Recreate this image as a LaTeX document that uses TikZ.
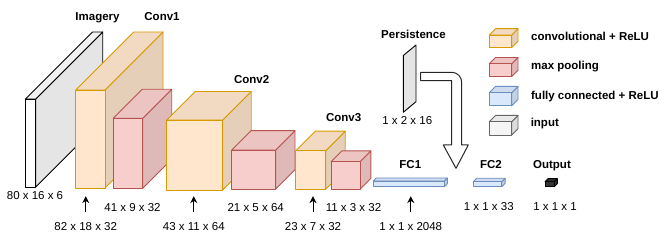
\documentclass[tikz,border=0pt]{standalone}
\usepackage{fontspec}
\setmainfont{Liberation Sans}
\usepackage{tikz}
\usetikzlibrary{arrows.meta,positioning}
\usepackage{xcolor}

\definecolor{convfill}{HTML}{FFE6CC}
\definecolor{convline}{HTML}{D79B00}
\definecolor{poolfill}{HTML}{F8CECC}
\definecolor{poolline}{HTML}{B85450}
\definecolor{fcfill}{HTML}{DAE8FC}
\definecolor{fcline}{HTML}{6C8EBF}
\definecolor{inpfill}{HTML}{F5F5F5}
\definecolor{inpline}{HTML}{666666}
\definecolor{imgfill}{HTML}{FFFFFF}
\definecolor{imgline}{HTML}{000000}
\definecolor{outfill}{HTML}{333333}
\definecolor{outline}{HTML}{000000}

% #1 kind, (#2,#3) top left of front face, #4 width, #5 height, #6 depth
\newcommand{\layerbox}[6]{%
  \filldraw[fill=#1fill!90!black, draw=#1line] (#2+#4,#3) -- ++(#6,-#6) -- ++(0,#5) -- ++(-#6,#6) -- cycle;
  \filldraw[fill=#1fill!95!black, draw=#1line] (#2,#3) -- ++(#6,-#6) -- ++(#4,0) -- ++(-#6,#6) -- cycle;
  \filldraw[fill=#1fill, draw=#1line] (#2,#3) rectangle ++(#4,#5);
}

\begin{document}
\begin{tikzpicture}[x=1pt, y=-1pt, line width=0.9pt, line join=round,
    txt/.style={inner sep=0pt, text height=8.2pt, text depth=0pt, font=\fontsize{11.5}{14}\selectfont},
    ttl/.style={txt, font=\fontsize{11.5}{14}\selectfont\bfseries},
    lgd/.style={ttl, anchor=west},
    up/.style={-{Stealth[length=7pt,width=7pt]}, line width=1pt}]
  \useasboundingbox (0,0) rectangle (664,245);

  % layers, back to front
  \layerbox{img}{25.5}{99}{10.2}{88}{67}
  \layerbox{conv}{75.7}{90}{29.3}{98}{58}
  \layerbox{pool}{113.3}{118.3}{29.4}{70}{29}
  \layerbox{conv}{166.7}{120}{56}{70}{28.5}
  \layerbox{pool}{231.7}{150}{44}{39}{19.3}
  \layerbox{conv}{295.7}{150.7}{30}{38.6}{19.5}
  \layerbox{pool}{331}{161.7}{29}{27.6}{10.8}
  \layerbox{fc}{373.3}{181}{71}{5.7}{3}
  \layerbox{fc}{473.3}{181.7}{28.4}{5}{3.4}
  \layerbox{out}{545}{181.7}{9.3}{5}{3}

  % persistence input
  \filldraw[fill=black!10, draw=black] (403.3,55.5) -- (416,45) -- (416,101.7) -- (403.3,112.3) -- cycle;

  % big arrow into FC1
  \filldraw[fill=white, draw=black!85, line width=1pt] (420.7,72.3) -- (451.7,72.3)
    arc[start angle=270, end angle=360, radius=10] -- (461.7,145) -- (468.3,145)
    -- (456,168.3) -- (443.3,145) -- (451.7,145) -- (451.7,80.7) -- (420.7,80.7) -- cycle;

  % titles
  \node[ttl] (imgttl) at (97.5,16) {Imagery};
  \node[ttl] (c1ttl) at (162,16) {Conv1};
  \node[ttl] (c2ttl) at (251.7,79.3) {Conv2};
  \node[ttl] (c3ttl) at (343.7,117.3) {Conv3};
  \node[ttl] (perttl) at (413.5,34.3) {Persistence};
  \node[ttl] (f1ttl) at (410.3,164.7) {FC1};
  \node[ttl] (f2ttl) at (491,164.7) {FC2};
  \node[ttl] (outttl) at (552,164.7) {Output};

  % sizes
  \node[txt] (imgdim) at (35,195) {80 x 16 x 6};
  \node[txt] (p1dim) at (132.5,207.3) {41 x 9 x 32};
  \node[txt] (c1dim) at (85.7,226.7) {82 x 18 x 32};
  \node[txt] (c2dim) at (193.8,226.7) {43 x 11 x 64};
  \node[txt] (p2dim) at (255.7,207.3) {21 x 5 x 64};
  \node[txt] (c3dim) at (313,226.7) {23 x 7 x 32};
  \node[txt] (p3dim) at (353.5,207.3) {11 x 3 x 32};
  \node[txt] (f1dim) at (410.8,226.7) {1 x 1 x 2048};
  \node[txt] (perdim) at (407.3,120) {1 x 2 x 16};
  \node[txt] (f2dim) at (488.8,206) {1 x 1 x 33};
  \node[txt] (outdim) at (555,206) {1 x 1 x 1};

  \foreach \d in {c1dim,c2dim,c3dim,f1dim}
    \draw[up] ([yshift=10pt]\d.north) -- ([yshift=26pt]\d.north);

  % legend
  \layerbox{conv}{489.3}{35}{22.4}{12.5}{6.3}
  \layerbox{pool}{489.3}{63.8}{22.4}{12.8}{6.3}
  \layerbox{fc}{489.3}{92.7}{22.4}{13.2}{6.3}
  \layerbox{inp}{489.3}{121.7}{22.4}{13.3}{6.3}
  \node[lgd] (lconv) at (530.7,36.7) {convolutional + ReLU};
  \node[lgd] (lpool) at (530.7,65.7) {max pooling};
  \node[lgd] (lfc) at (530.7,95.7) {fully connected + ReLU};
  \node[lgd] (linp) at (530.3,122.7) {input};
\end{tikzpicture}
\end{document}
